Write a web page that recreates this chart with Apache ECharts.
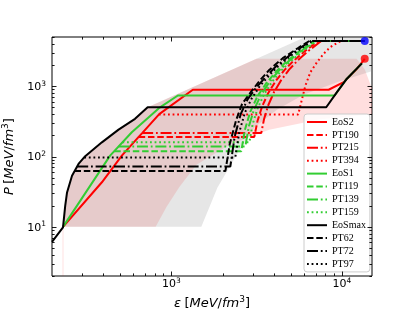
<!DOCTYPE html>
<html><head><meta charset="utf-8">
<script src="https://cdn.jsdelivr.net/npm/echarts@6/dist/echarts.min.js"></script>
<style>html,body{margin:0;padding:0;background:#fff}#c{width:415px;height:311px}</style>
</head><body><div id="c"></div>
<script>
// ---- axis ticks ----
const X_MAJOR = [1000, 10000];
const X_MINOR = [300,400,500,600,700,800,900,2000,3000,4000,5000,6000,7000,8000,9000];
const Y_MAJOR = [10, 100, 1000];
const Y_MINOR = [2,3,4,5,6,7,8,9,20,30,40,50,60,70,80,90,200,300,400,500,600,700,800,900,2000,3000,4000,5000];

// ---- base EoS curves [epsilon, P] ----
const EOS2   = [[232,10],[392,43],[513,103],[644,190],[675,215],[850,400],[1337,889],[8360,889],[10240,1140],[12250,1770],[13600,2450]];
const EOS1   = [[232,10],[438,103],[587,221],[846,486],[1093,736],[9060,736],[9350,822],[10690,1276],[13090,2110]];
const EOSMAX = [[200,6.1],[232,9.8],[239,19.9],[245,30.8],[262,53.3],[286,78.3],[313,101],[392,159],[491,241],[613,343],[727,502],[8090,502],[9350,822],[10690,1276],[13090,2110]];

// ---- phase-transition curves [epsilon, P] ----
const PT190 = [[644,190],[3064,190],[3200,320],[3400,510],[3700,800],[4100,1190],[4600,1690],[5200,2290],[6000,3090],[7000,4090],[7320,4400],[13600,4400]];
const PT215 = [[675,215],[3365,215],[3500,345],[3700,535],[4000,825],[4400,1215],[4900,1715],[5500,2315],[6300,3115],[7300,4115],[7600,4400],[13600,4400]];
const PT394 = [[845,394],[5540,394],[5840,661],[6110,1023],[6535,1583],[7150,2198],[7820,2897],[8550,3597],[9570,4240],[10000,4400],[13600,4400]];
const PT119 = [[463,119],[2572,119],[2700,240],[2900,430],[3200,720],[3600,1100],[4100,1600],[4700,2200],[5500,3000],[6500,4000],[6900,4400],[13600,4400]];
const PT139 = [[491,139],[2716,139],[2850,270],[3050,460],[3350,750],[3750,1140],[4250,1640],[4850,2240],[5650,3040],[6650,4040],[7050,4400],[13600,4400]];
const PT159 = [[517,159],[2865,159],[3000,290],[3200,480],[3500,770],[3900,1160],[4400,1660],[5000,2260],[5800,3060],[6800,4060],[7200,4400],[13600,4400]];
const PT62  = [[271,62],[2075,62],[2200,150],[2400,330],[2600,560],[2900,800],[3300,1200],[3750,1700],[4500,2500],[5600,3550],[6450,4400],[13600,4400]];
const PT72  = [[281,72],[2218,72],[2350,190],[2550,400],[2800,650],[3150,960],[3600,1380],[4100,1900],[4900,2700],[5900,3700],[6600,4400],[13600,4400]];
const PT97  = [[309,97],[2371,97],[2500,220],[2700,420],[2950,660],[3300,1000],[3800,1480],[4300,2000],[5100,2800],[6100,3800],[6700,4400],[13600,4400]];

// ---- end points ----
const RED_DOT  = [[13600,2450]];
const BLUE_DOT = [[13600,4400]];

// ---- shaded bands (outline polygons, [epsilon, P]) ----
const PINK_BAND = [[232,10],[239,19.9],[245,30.8],[262,53.3],[286,78.3],[313,101],[392,159],[491,241],[613,343],[727,502],[3150,2450],[12200,2450],[13620,1730],[14760,1023],[17570,466],[14760,395],[7350,335],[3750,241],[2190,147],[1405,76.6],[1118,37.2],[939,19.3],[810,10]];
const GREY_BAND = [[232,10],[239,19.9],[245,30.8],[262,53.3],[286,78.3],[313,101],[392,159],[491,241],[613,343],[727,502],[7230,6000],[18800,6000],[18800,2036],[14760,1620],[9616,1167],[5997,762],[4174,466],[3063,258],[2404,103],[1862,36],[1500,10]];
const PINK_EDGE = [[232,2],[232,10]];

const RED = '#ff0000', GREEN = '#32cd32', BLACK = '#000000';
const DASHED = [6.5,2.8], DASHDOT = [11,2.8,1.8,2.8], DOTTED = [1.8,2.8];

function lineSeries(name, data, color, type){
  return {name, type:'line', data, showSymbol:false, symbol:'none', z:3,
    lineStyle:{color, width:2, type}, itemStyle:{color}, emphasis:{disabled:true}};
}
function bandSeries(poly, fill, z){
  return {type:'custom', clip:true, z, silent:true, data:[[1000,10]],
    renderItem:function(params, api){
      const pts = poly.map(p => api.coord(p));
      return {type:'polygon', shape:{points:pts}, style:{fill:fill, stroke:null}};
    }};
}
function tickSeries(){
  return {type:'custom', clip:false, z:10, silent:true, data:[[1000,10]],
    renderItem:function(params, api){
      const cs = params.coordSys;
      const L=cs.x, R=cs.x+cs.width, T=cs.y, B=cs.y+cs.height;
      const ch=[];
      const add=(x1,y1,x2,y2)=>ch.push({type:'line',shape:{x1,y1,x2,y2},style:{stroke:'#000',lineWidth:0.9}});
      const xt=(v,len)=>{const x=Math.round(api.coord([v,10])[0])+0.5; add(x,B,x,B-len); add(x,T,x,T+len);};
      const yt=(v,len)=>{const y=Math.round(api.coord([1000,v])[1])+0.5; add(L,y,L+len,y); add(R,y,R-len,y);};
      X_MAJOR.forEach(v=>xt(v,4.5)); X_MINOR.forEach(v=>xt(v,2.6));
      Y_MAJOR.forEach(v=>yt(v,4.5)); Y_MINOR.forEach(v=>yt(v,2.6));
      return {type:'group',children:ch};
    }};
}
function powLabel(v){
  const l = Math.log10(v), e = Math.round(l);
  if (Math.abs(l-e) > 1e-6) return '';
  return '{b|10}{s|' + e + '}';
}
const labelRich = {
  b:{fontSize:11, fontFamily:'DejaVu Sans', color:'#000', verticalAlign:'bottom'},
  s:{fontSize:7.5, fontFamily:'DejaVu Sans', color:'#000', verticalAlign:'bottom', padding:[0,0,5,0]}
};
const nameRich = {
  i:{fontSize:13, fontFamily:'DejaVu Sans', fontStyle:'italic', color:'#000', verticalAlign:'bottom'},
  r:{fontSize:13, fontFamily:'DejaVu Sans', color:'#000', verticalAlign:'bottom'},
  s:{fontSize:9, fontFamily:'DejaVu Sans', color:'#000', verticalAlign:'bottom', padding:[0,0,6,0]}
};

const chart = echarts.init(document.getElementById('c'), null, {renderer:'canvas'});
chart.setOption({
  animation:false,
  backgroundColor:'#fff',
  grid:{left:52, top:37, width:320, height:239, show:true, borderColor:'#000', borderWidth:1, backgroundColor:'transparent',
    containLabel:false, outerBoundsMode:'none'},
  xAxis:{type:'log', logBase:10, min:200, max:15000,
    axisLine:{show:false}, axisTick:{show:false}, splitLine:{show:false}, minorTick:{show:false},
    axisLabel:{formatter:powLabel, rich:labelRich, margin:1},
    name:'{i|ε} {r|[}{i|MeV}{r|/}{i|fm}{s|3}{r|]}', nameLocation:'middle', nameGap:11,
    nameTextStyle:{rich:nameRich}},
  yAxis:{type:'log', logBase:10, min:2, max:5000,
    axisLine:{show:false}, axisTick:{show:false}, splitLine:{show:false}, minorTick:{show:false},
    axisLabel:{formatter:powLabel, rich:labelRich, margin:6},
    name:'{i|P} {r|[}{i|MeV}{r|/}{i|fm}{s|3}{r|]}', nameLocation:'middle', nameGap:29, nameRotate:90,
    nameTextStyle:{rich:nameRich}},
  legend:{orient:'vertical', left:304, top:114, itemWidth:20, itemHeight:10, itemGap:2.9,
    padding:[3,4,3,2], backgroundColor:'rgba(255,255,255,0.85)', borderColor:'#cccccc', borderWidth:1, borderRadius:3,
    itemStyle:{opacity:0, borderWidth:0},
    textStyle:{fontFamily:'Liberation Serif', fontSize:10, color:'#000', lineHeight:10},
    data:['EoS2','PT190','PT215','PT394','EoS1','PT119','PT139','PT159','EoSmax','PT62','PT72','PT97']},
  series:[
    bandSeries(PINK_BAND, 'rgba(255,0,0,0.13)', 1),
    bandSeries(GREY_BAND, 'rgba(128,128,128,0.2)', 1),
    {type:'line', data:PINK_EDGE, showSymbol:false, symbol:'none', z:1, silent:true, lineStyle:{color:'rgba(255,0,0,0.12)', width:1}},
    lineSeries('EoS2', EOS2, RED, 'solid'),
    lineSeries('PT190', PT190, RED, DASHED),
    lineSeries('PT215', PT215, RED, DASHDOT),
    lineSeries('PT394', PT394, RED, DOTTED),
    lineSeries('EoS1', EOS1, GREEN, 'solid'),
    lineSeries('PT119', PT119, GREEN, DASHED),
    lineSeries('PT139', PT139, GREEN, DASHDOT),
    lineSeries('PT159', PT159, GREEN, DOTTED),
    lineSeries('EoSmax', EOSMAX, BLACK, 'solid'),
    lineSeries('PT62', PT62, BLACK, DASHED),
    lineSeries('PT72', PT72, BLACK, DASHDOT),
    lineSeries('PT97', PT97, BLACK, DOTTED),
    {type:'scatter', data:RED_DOT, symbolSize:8, itemStyle:{color:RED}, z:5, silent:true},
    {type:'scatter', data:BLUE_DOT, symbolSize:8, itemStyle:{color:'#0000ff'}, z:5, silent:true},
    tickSeries()
  ]
});
</script>
</body></html>
